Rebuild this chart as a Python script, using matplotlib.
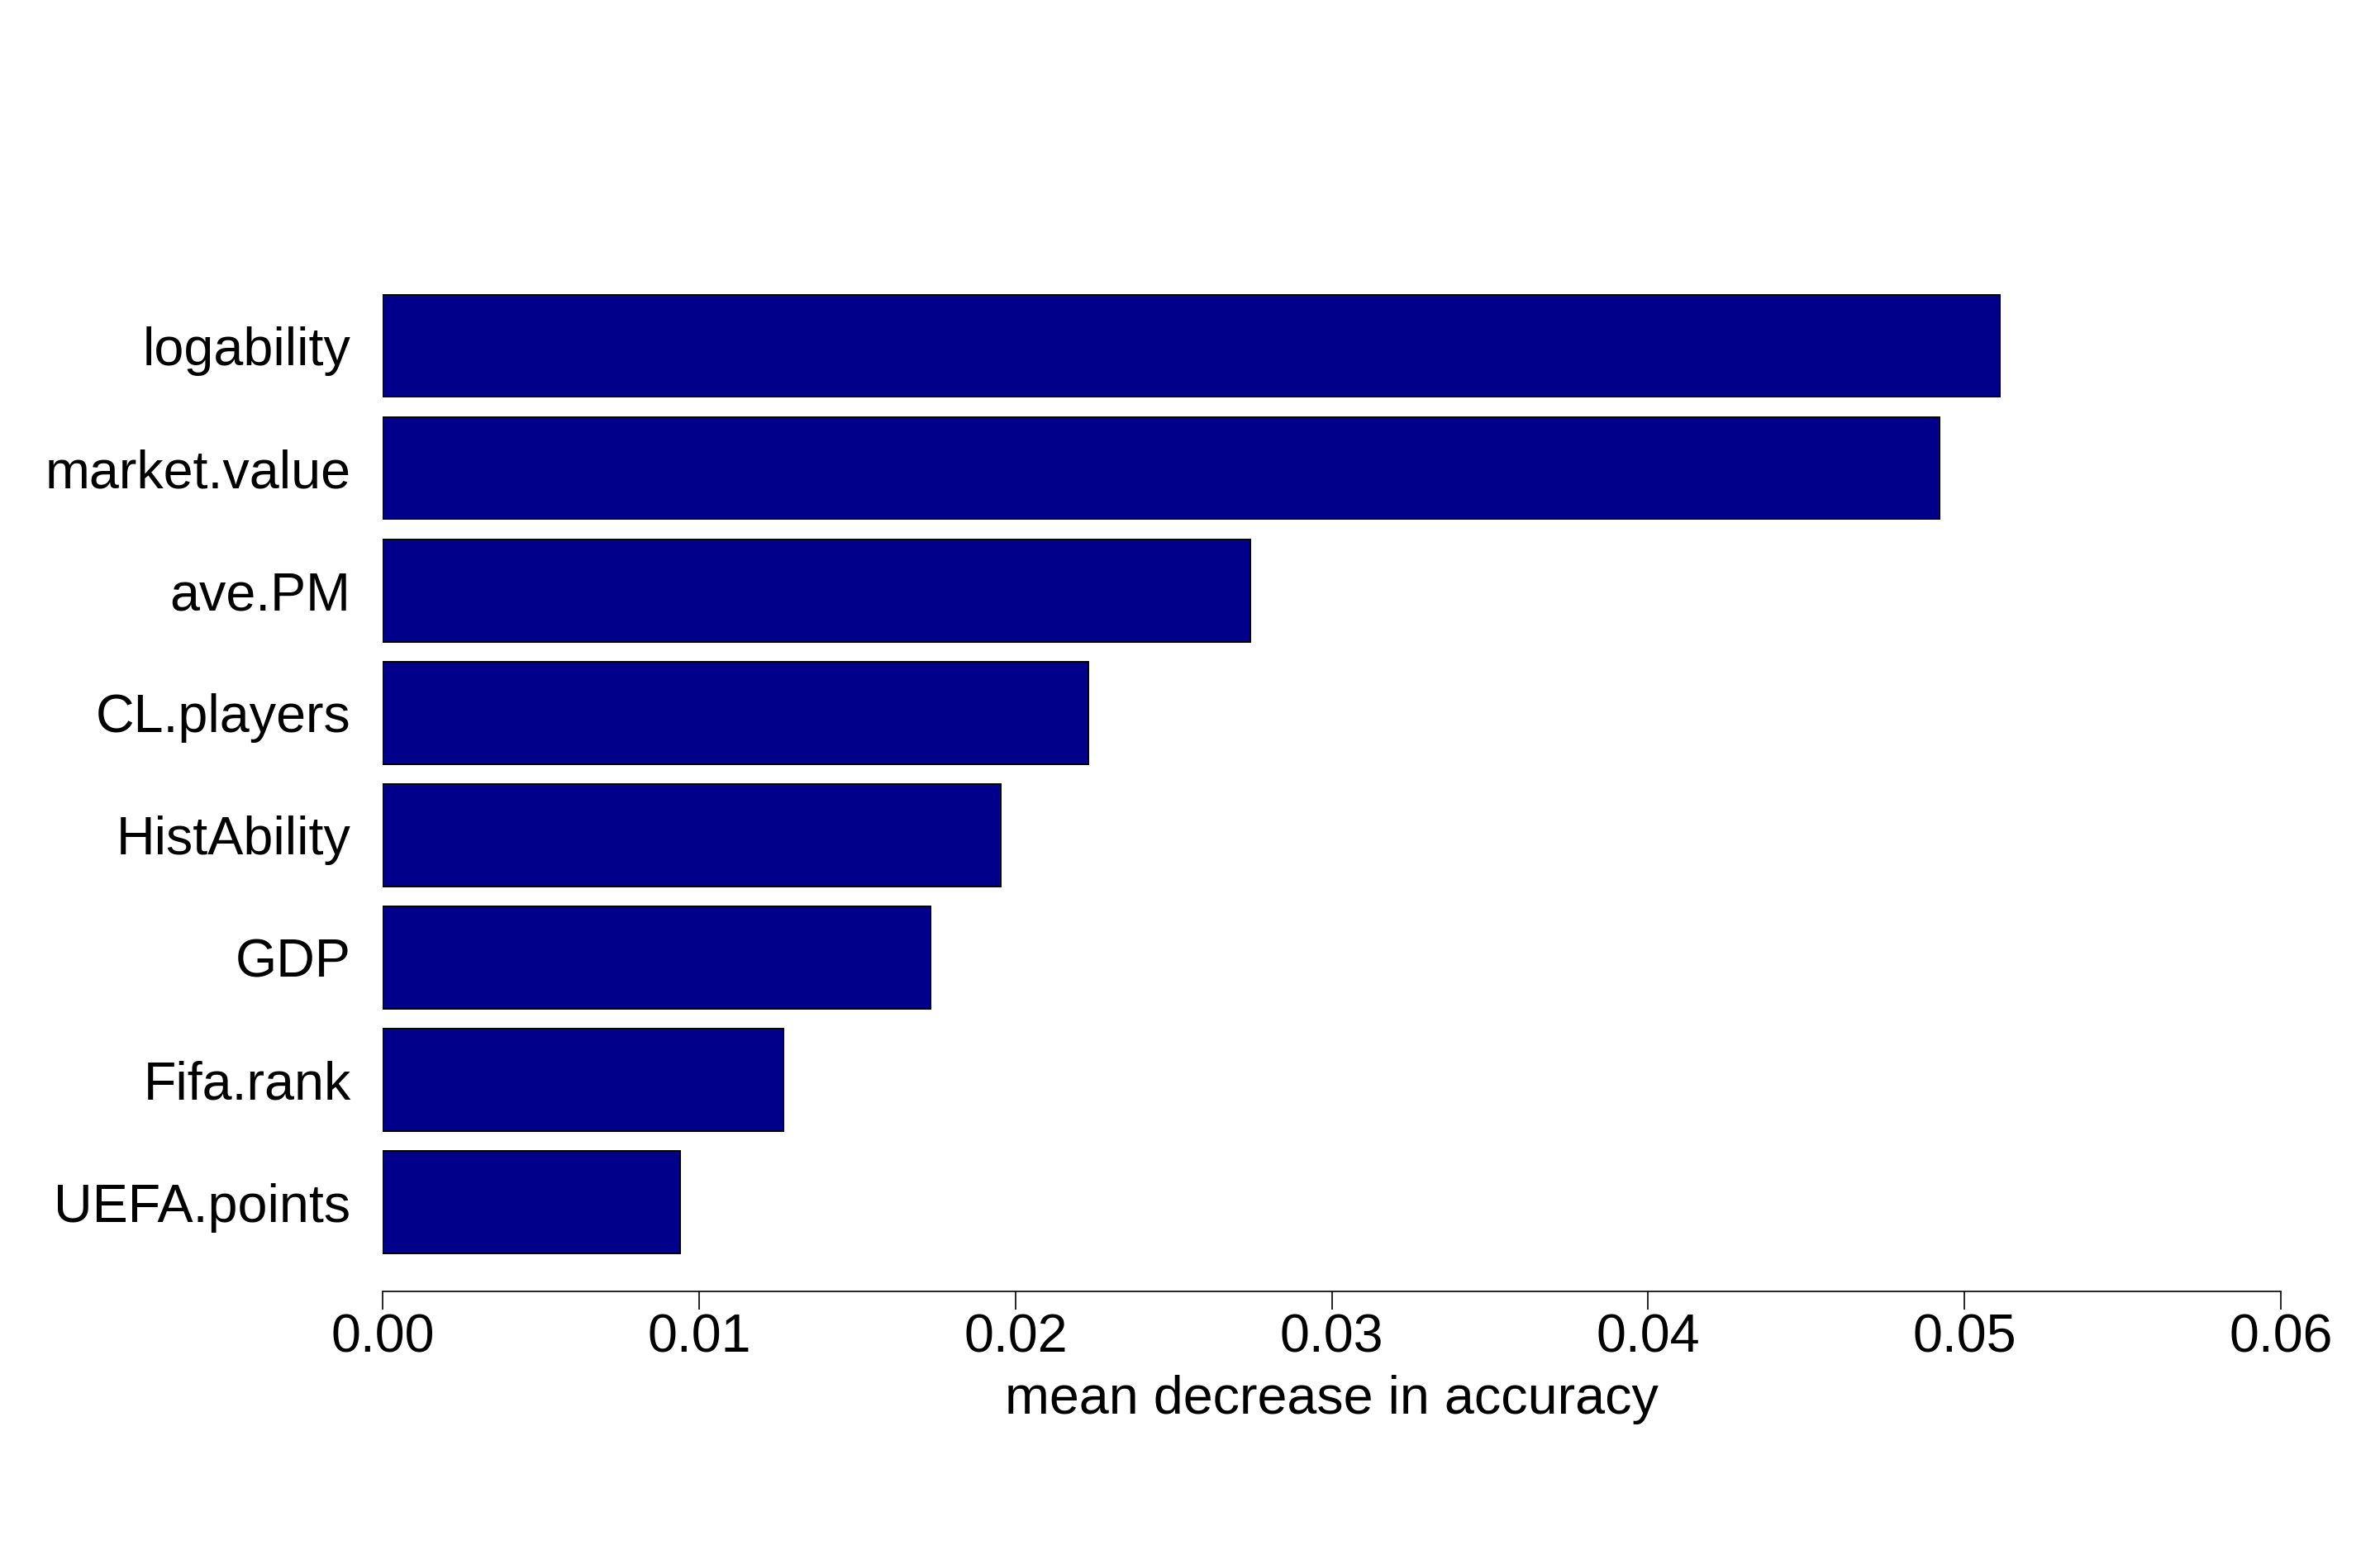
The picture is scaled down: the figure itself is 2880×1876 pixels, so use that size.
import matplotlib
matplotlib.use('Agg')
import matplotlib.pyplot as plt
import numpy as np

# variable importance (mean decrease in accuracy), top to bottom as shown
features = ['logability', 'market.value', 'ave.PM', 'CL.players',
            'HistAbility', 'GDP', 'Fifa.rank', 'UEFA.points']
importance = [0.05112, 0.04921, 0.02743, 0.02231,
              0.01953, 0.01731, 0.01267, 0.00939]
xticks = [0.00, 0.01, 0.02, 0.03, 0.04, 0.05, 0.06]

plt.rcParams['font.family'] = ['Liberation Sans', 'DejaVu Sans']
FS = 46.5

fig = plt.figure(figsize=(28.8, 18.76), dpi=100)
ax = fig.add_axes([0.1609, 0.1668, 0.9583 - 0.1609, 0.8401 - 0.1668])

# bottom bar at y=0, top bar at y=7
ypos = np.arange(len(features))[::-1]
ax.barh(ypos, importance, height=0.835, color='#00008B',
        edgecolor='black', linewidth=1.4)

ax.set_xlim(0, 0.06)
ax.set_ylim(-0.728, 7.80)

for s in ['top', 'right', 'left']:
    ax.spines[s].set_visible(False)
ax.spines['bottom'].set_linewidth(1.2)

ax.set_xticks(xticks)
ax.set_xticklabels(['%.2f' % t for t in xticks])
ax.tick_params(axis='x', length=16, width=1.2, pad=3, labelsize=FS)

ax.set_yticks(ypos)
ax.set_yticklabels(features)
ax.tick_params(axis='y', length=0, pad=28, labelsize=FS)

ax.set_xlabel('mean decrease in accuracy', fontsize=FS, va='center')
ax.xaxis.set_label_coords(0.5, -0.1035)

fig.savefig('out.png', dpi=100, facecolor='white')
